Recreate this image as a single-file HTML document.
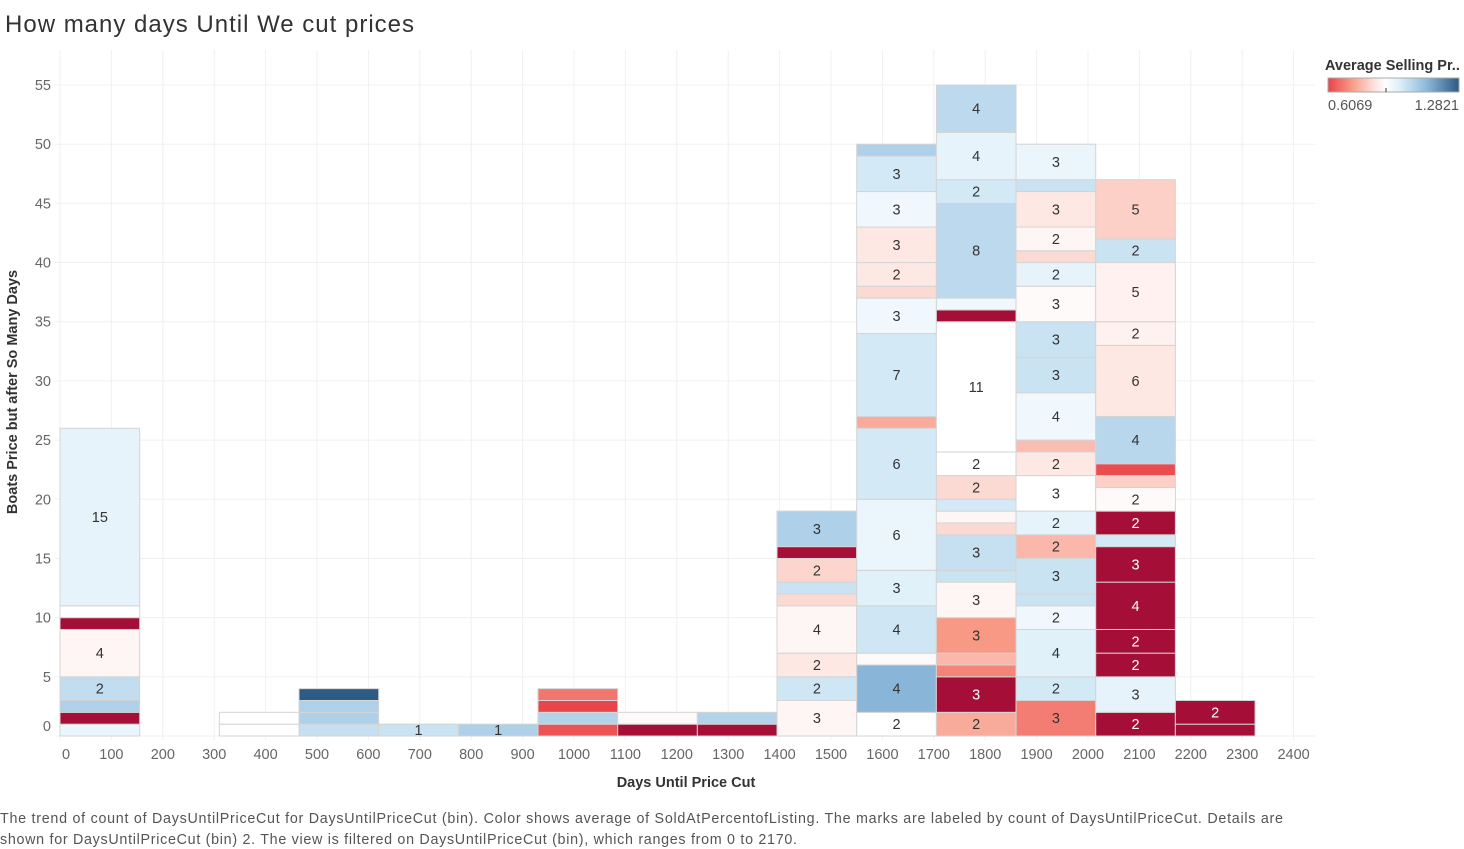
<!DOCTYPE html>
<html><head><meta charset="utf-8"><style>
body{margin:0;background:#fff;font-family:"Liberation Sans",sans-serif;}
#wrap{position:relative;width:1464px;height:849px;overflow:hidden;}
</style></head><body>
<div id="wrap">
<svg id="chart" width="1464" height="849" xmlns="http://www.w3.org/2000/svg">
<text x="5" y="32" font-size="24" fill="#333" textLength="409" font-family="Liberation Sans, sans-serif">How many days Until We cut prices</text>
<g id="grid"></g>
<g id="bars"></g>
<g id="xticks"></g>
<g id="yticks"></g>
<text x="686" y="787" text-anchor="middle" font-size="14.5" fill="#333" font-weight="bold">Days Until Price Cut</text>
<text transform="translate(17,392) rotate(-90)" text-anchor="middle" font-size="14.5" fill="#333" font-weight="bold">Boats Price but after So Many Days</text>
<g>
<defs><linearGradient id="lg" x1="0" x2="1" y1="0" y2="0">
<stop offset="0" stop-color="#e8434a"/><stop offset="0.18" stop-color="#f89a86"/><stop offset="0.35" stop-color="#fde0da"/><stop offset="0.44" stop-color="#ffffff"/><stop offset="0.55" stop-color="#dbeef9"/><stop offset="0.75" stop-color="#8fb9d9"/><stop offset="1" stop-color="#2b5a85"/></linearGradient></defs>
<text x="1325" y="70" font-size="14.5" fill="#333" font-weight="bold">Average Selling Pr..</text>
<rect x="1328" y="78" width="131" height="14" fill="url(#lg)" stroke="#aaa"/>
<line x1="1386" y1="88" x2="1386" y2="92" stroke="#333"/>
<text x="1328" y="110" font-size="14.5" fill="#555">0.6069</text>
<text x="1459" y="110" font-size="14.5" fill="#555" text-anchor="end">1.2821</text>
</g>
<text x="0" y="823" font-size="14.3" fill="#555" textLength="1283">The trend of count of DaysUntilPriceCut for DaysUntilPriceCut (bin).  Color shows average of SoldAtPercentofListing.  The marks are labeled by count of DaysUntilPriceCut.  Details are</text>
<text x="0" y="844" font-size="14.3" fill="#555" textLength="797">shown for DaysUntilPriceCut (bin) 2. The view is filtered on DaysUntilPriceCut (bin), which ranges from 0 to 2170.</text>
</svg>
</div>
<script>
const binStarts = [0,155,310,465,620,775,930,1085,1240,1395,1550,1705,1860,2015,2170];
const binWidth = 155;
const segCounts = [
 [1,1,1,2,4,1,1,15],
 [],
 [1,1],
 [1,1,1,1],
 [1],
 [1],
 [1,1,1,1],
 [1,1],
 [1,1],
 [3,2,2,4,1,1,2,1,3],
 [2,4,1,4,3,6,6,1,7,3,1,2,3,3,3,1],
 [2,3,1,1,3,3,1,3,1,1,1,2,2,11,1,1,8,2,4,4],
 [3,2,4,2,1,3,2,2,3,2,1,4,3,3,3,2,1,2,3,1,3],
 [2,3,2,2,4,3,1,2,2,1,1,4,6,2,5,2,5],
 [1,2]
];
const segValues = [
 [0.96,0.5,1.09,1.05,0.90,0.5,0.92,0.97],
 [],
 [0.92,0.92],
 [1.04,1.09,1.09,1.28],
 [1.03],
 [1.09],
 [0.63,1.08,0.61,0.68],
 [0.5,0.91],
 [0.5,1.08],
 [0.90,1.02,0.87,0.90,0.84,1.03,0.83,0.5,1.09],
 [0.92,1.15,0.91,1.02,0.98,0.96,1.01,0.76,1.01,0.95,0.84,0.87,0.87,0.95,1.01,1.09],
 [0.76,0.5,0.70,0.78,0.73,0.90,1.03,1.04,0.84,0.90,1.01,0.84,0.92,0.92,0.5,0.95,1.06,1.01,0.97,1.06],
 [0.69,1.01,0.98,0.95,1.03,1.03,0.78,0.97,0.92,0.87,0.79,0.95,1.03,1.03,0.91,0.97,0.84,0.90,0.87,1.03,0.96],
 [0.5,0.97,0.5,0.5,0.5,0.5,1.01,0.5,0.91,0.82,0.62,1.07,0.87,0.89,0.89,1.03,0.82],
 [0.5,0.5]
];
const xTicks = [0,100,200,300,400,500,600,700,800,900,1000,1100,1200,1300,1400,1500,1600,1700,1800,1900,2000,2100,2200,2300,2400];
const yTicks = [0,5,10,15,20,25,30,35,40,45,50,55];

const NS='http://www.w3.org/2000/svg';
const x = v => 60 + v*0.514;
const y = v => 736 - v*11.836;
function mk(tag, attrs, parent){const e=document.createElementNS(NS,tag);for(const k in attrs)e.setAttribute(k,attrs[k]);parent.appendChild(e);return e;}
function hex(h){return [1,3,5].map(i=>parseInt(h.substr(i,2),16));}
function lerpStops(stops,t){for(let i=1;i<stops.length;i++){if(t<=stops[i][0]){const a=stops[i-1],b=stops[i];const f=(t-a[0])/(b[0]-a[0]);const ca=hex(a[1]),cb=hex(b[1]);return 'rgb('+ca.map((c,j)=>Math.round(c+(cb[j]-c)*f)).join(',')+')';}}return stops[stops.length-1][1];}
const C=0.92, MIN=0.6069, MAX=1.2821;
function color(v){
 if(v<0.58) return '#a50e37';
 if(v<C){const t=Math.min(1,(C-v)/(C-MIN));return lerpStops([[0,'#ffffff'],[0.3,'#fcd3cc'],[0.6,'#f89a86'],[1,'#e8434a']],t);}
 const t=Math.min(1,(v-C)/(MAX-C));return lerpStops([[0,'#ffffff'],[0.2,'#dbeef9'],[0.5,'#aacde7'],[0.65,'#85b2d6'],[1,'#2b5a85']],t);
}
const grid=document.getElementById('grid');
xTicks.forEach(t=>{const l=mk('line',{x1:x(t),x2:x(t),y1:50,y2:740,stroke:'#f0f0f0'},grid);

});
yTicks.forEach(t=>{const l=mk('line',{x1:55,x2:1315,y1:y(t),y2:y(t),stroke:'#f0f0f0'},grid);

});
const bars=document.getElementById('bars');
binStarts.forEach((b,i)=>{
 let cum=0;
 const cs=segCounts[i], vs=segValues[i];
 cs.forEach((c,j)=>{
  const y0=y(cum+c), y1=y(cum);
  const r=mk('rect',{x:x(b),y:y0,width:x(b+binWidth)-x(b),height:y1-y0,fill:color(vs[j]),stroke:'#d4d4d4','stroke-width':1},bars);
  
  
  if(c>=2 || cs.length===1){
   const tx=mk('text',{x:(x(b)+x(b+binWidth))/2,y:(y0+y1)/2+5,'text-anchor':'middle','font-size':14.5,fill:vs[j]<0.58?'#fff':'#333'},bars);
   tx.textContent=c;
   
   
  }
  cum+=c;
 });
});
const xt=document.getElementById('xticks');
xTicks.forEach(t=>{const px=t===0?66:x(t);const e=mk('text',{x:px,y:759,'text-anchor':'middle','font-size':14.5,fill:'#666'},xt);e.textContent=t;

});
const yt=document.getElementById('yticks');
yTicks.forEach(t=>{const py=t===0?731:y(t)+5;const e=mk('text',{x:51,y:py,'text-anchor':'end','font-size':14.5,fill:'#666'},yt);e.textContent=t;

});
</script>
</body></html>
